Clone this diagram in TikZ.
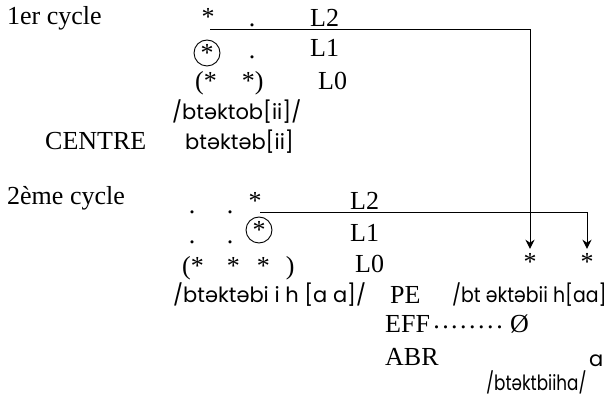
\documentclass[tikz,border=0pt]{standalone}
\usepackage{fontspec}
\setmainfont{Liberation Serif}
\newfontfamily\gothic{Poppins}
\usetikzlibrary{arrows.meta}
\tikzset{
  txt/.style={inner sep=0pt, anchor=base west, font=\fontsize{26}{30}\selectfont},
  goth/.style={inner sep=0pt, anchor=base west, font=\gothic\fontsize{21}{25}\selectfont},
  sym/.style={inner sep=0pt, anchor=base, font=\fontsize{26}{30}\selectfont},
  ring/.style={draw, circle, line width=0.9pt, inner sep=0pt, minimum size=26pt, font=\fontsize{26}{30}\selectfont},
  arr/.style={line width=1pt, -{Stealth[length=9pt,width=9pt]}, shorten >=5pt},
}
\begin{document}
\begin{tikzpicture}[x=1pt,y=-1pt]
\useasboundingbox (0,0) rectangle (613,403);
% first cycle
\node[txt] (cyc1) at (7,25) {1er cycle};
\node[sym] (s1a) at (208,26) {*};
\node[sym] (d1a) at (252,27) {.};
\node[txt] (L2a) at (310,27) {L2};
\node[ring] (c1) at (207,53) {*};
\node[sym] (d1b) at (252,59) {.};
\node[txt] (L1a) at (310,57) {L1};
\node[txt] (p1) at (195,90) {(*\hspace{25pt}*)};
\node[txt] (L0a) at (318,90) {L0};
\node[goth] (f1) at (172,120) {/btəktob[ii]/};
\node[txt] (centre) at (45,150) {CENTRE};
\node[goth] (f2) at (185,150) {btəktəb[ii]};
% second cycle
\node[txt] (cyc2) at (7,205) {2ème cycle};
\node[sym] (d2a) at (192,214) {.};
\node[sym] (d2b) at (230,214) {.};
\node[sym] (s2a) at (255,210) {*};
\node[txt] (L2b) at (350,210) {L2};
\node[ring] (c2) at (259,230) {*};
\node[txt] (L1b) at (350,242) {L1};
\node[sym] (d2c) at (192,244) {.};
\node[sym] (d2d) at (230,244) {.};
\node[txt] (p2) at (182,275) {(*\hspace{23pt}*\hspace{17pt}*\hspace{16pt})};
\node[txt] (L0b) at (355,273) {L0};
\node[sym] (sA) at (530,271) {*};
\node[sym] (sB) at (587,271) {*};
\node[goth] (f3) at (173,303) {/btəktəbi i h [a a]/};
\node[txt] (pe) at (390,304) {PE};
\node[goth] (f4) at (452,303) {\scalebox{0.9}[1]{/bt əktəbii h[aa]}};
\node[txt] (eff) at (385,333) {EFF\hspace{2pt}\raisebox{5pt}{\leaders\hbox to 9pt{\hss.\hss}\hskip 72pt}\hspace{6pt}Ø};
\node[txt] (abr) at (385,365) {ABR};
\node[goth] (a) at (589,366) {a};
\node[goth] (f5) at (486,390) {\scalebox{0.8}[1]{/btəktbiiha/}};
% connectors
\coordinate (k1) at (210,30);
\coordinate (k2) at (260,213);
\draw[arr] (k1) -| (sA.north);
\draw[arr] (k2) -| (sB.north);
\end{tikzpicture}
\end{document}
